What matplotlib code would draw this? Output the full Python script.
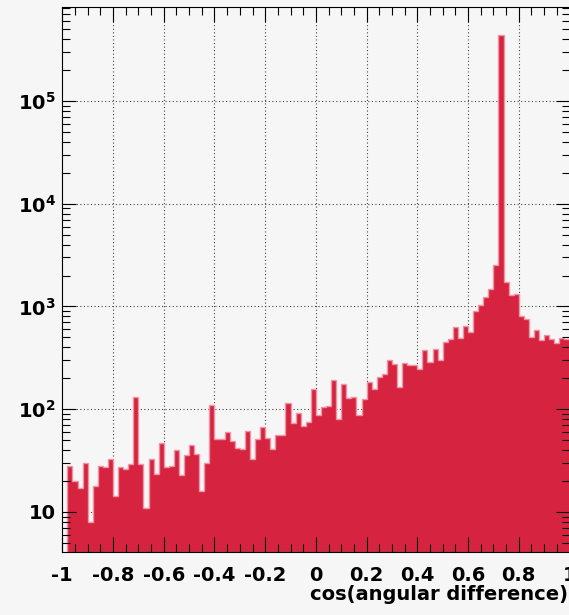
import numpy as np
import matplotlib
matplotlib.use("Agg")
import matplotlib.pyplot as plt
from matplotlib.ticker import FixedLocator, FixedFormatter, LogLocator, NullFormatter

# ---------------- data ----------------
x_min, x_max, n_bins = -1.0, 1.0, 100
counts = [
    0, 28, 20, 17, 30, 8, 18, 28, 27.5, 33,
    14.3, 27.5, 26, 29, 131, 29, 11, 33, 23.5, 47,
    27.6, 28, 40, 23, 35.6, 44.6, 37, 16, 30, 111,
    51, 51, 60, 48.7, 42, 40.7, 62, 33, 51, 67.6,
    52.5, 41, 56, 56, 116, 73, 91, 68, 75, 157,
    88, 105, 108, 193, 79.5, 175, 128, 133, 88, 125,
    185, 157, 208, 222, 300, 274, 164, 281, 268, 268,
    245, 378, 287, 386, 302, 449, 478, 629, 490, 646,
    566, 900, 1038, 1250, 1494, 2540, 434000, 1725, 1306, 1336,
    803, 751, 501, 591, 473, 528, 483, 439, 490, 480,
]
x_ticks = [-1.0, -0.8, -0.6, -0.4, -0.2, 0.0, 0.2, 0.4, 0.6, 0.8, 1.0]
x_tick_labels = ["-1", "-0.8", "-0.6", "-0.4", "-0.2", "0", "0.2", "0.4", "0.6", "0.8", "1"]
y_ticks = [10, 1e2, 1e3, 1e4, 1e5]
y_tick_labels = ["10", r"$\mathbf{10^{2}}$", r"$\mathbf{10^{3}}$", r"$\mathbf{10^{4}}$", r"$\mathbf{10^{5}}$"]
x_label = "cos(angular difference)"

# ---------------- style ----------------
bg = "#f6f6f6"
fill_col = "#d62340"
edge_col = "#ef94a4"
plt.rcParams["font.family"] = ["DejaVu Sans"]
plt.rcParams["font.weight"] = "bold"
plt.rcParams["mathtext.fontset"] = "dejavusans"

W, H = 569, 615
fig = plt.figure(figsize=(W / 100, H / 100), dpi=100, facecolor=bg)
ax_left, ax_right, ax_top, ax_bottom = 62.3, 569.5, 6.5, 552.0
ax = fig.add_axes([ax_left / W, 1 - ax_bottom / H, (ax_right - ax_left) / W, (ax_bottom - ax_top) / H])
ax.set_facecolor(bg)

edges = np.linspace(x_min, x_max, n_bins + 1)
vals = np.array(counts, dtype=float)

ax.set_yscale("log")
ax.set_xlim(x_min, x_max)
ax.set_ylim(4.08, 8.3e5)

# grid (behind histogram)
for xv in x_ticks[1:-1]:
    ax.axvline(xv, color="#444444", lw=0.8, ls=(0, (1, 2.2)), zorder=0.5)
for yv in y_ticks:
    ax.axhline(yv, color="#444444", lw=0.8, ls=(0, (1, 2.2)), zorder=0.5)

ax.stairs(vals, edges, fill=True, baseline=1e-3, color=fill_col, lw=0, zorder=1)
ax.stairs(vals, edges, baseline=None, color=edge_col, lw=1.0, zorder=1.1)

# ticks
ax.xaxis.set_major_locator(FixedLocator(x_ticks))
ax.xaxis.set_major_formatter(FixedFormatter(x_tick_labels))
ax.xaxis.set_minor_locator(FixedLocator(np.arange(-1.0, 1.0001, 0.05)))
ax.yaxis.set_major_locator(FixedLocator(y_ticks))
ax.yaxis.set_major_formatter(FixedFormatter(y_tick_labels))
ax.yaxis.set_minor_locator(LogLocator(base=10, subs=np.arange(2, 10)))
ax.yaxis.set_minor_formatter(NullFormatter())

ax.tick_params(axis="both", which="both", direction="in", top=True, right=True,
               color="black", width=0.8)
ax.tick_params(axis="x", which="major", length=11, pad=10, labelsize=14)
ax.tick_params(axis="x", which="minor", length=5.8)
ax.tick_params(axis="y", which="major", length=10, pad=4.5, labelsize=14)
ax.tick_params(axis="y", which="minor", length=5.5)
for lab in ax.get_xticklabels() + ax.get_yticklabels():
    lab.set_fontweight("bold")

for sp in ax.spines.values():
    sp.set_linewidth(0.8)
    sp.set_color("black")

ax.set_xlabel(x_label, fontsize=14, fontweight="bold", loc="right")
ax.xaxis.set_label_coords((567.5 - ax_left) / (ax_right - ax_left), -(585.5 - ax_bottom) / (ax_bottom - ax_top))

fig.savefig("out.png", dpi=100, facecolor=bg)
